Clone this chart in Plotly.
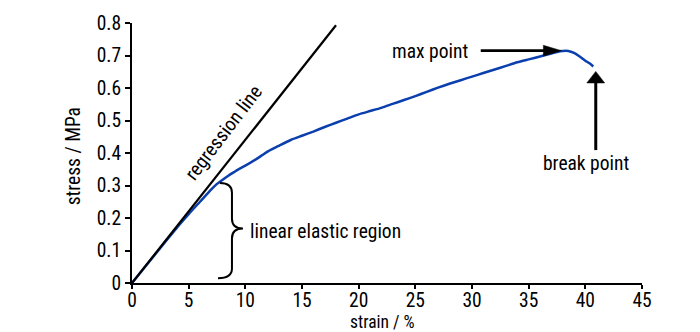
import plotly.graph_objects as go

# Tensile test: engineering stress vs strain
strain = [0, 1, 2, 3, 4, 5, 6, 7, 7.5, 8, 8.5, 9, 9.5, 10, 11, 12, 13, 14, 15, 16,
          17, 18, 19, 20, 21, 22, 23, 24, 25, 26, 27, 28, 29, 30, 31, 32, 33, 34,
          35, 36, 37, 37.5, 38, 38.5, 39, 39.5, 40, 40.4, 40.7]
stress = [0, 0.043, 0.086, 0.129, 0.172, 0.212, 0.250, 0.288, 0.305, 0.318, 0.330,
          0.341, 0.352, 0.361, 0.382, 0.405, 0.423, 0.440, 0.453, 0.466, 0.480,
          0.493, 0.506, 0.519, 0.529, 0.539, 0.551, 0.563, 0.575, 0.588, 0.601,
          0.613, 0.624, 0.635, 0.646, 0.657, 0.668, 0.679, 0.688, 0.697, 0.706,
          0.711, 0.714, 0.714, 0.708, 0.697, 0.684, 0.675, 0.666]

# Linear fit through the elastic part
reg_strain = [0, 18.0]
reg_stress = [0, 0.793]

x_ticks = [0, 5, 10, 15, 20, 25, 30, 35, 40, 45]
y_ticks = [0, 0.1, 0.2, 0.3, 0.4, 0.5, 0.6, 0.7, 0.8]
y_tick_text = ["0", "0.1", "0.2", "0.3", "0.4", "0.5", "0.6", "0.7", "0.8"]

FONT = ("Liberation Sans Narrow, Roboto Condensed, Noto Sans Condensed, "
        "Open Sans Condensed, sans-serif")
FS = 19.5
BLUE = "#0b3fae"

fig = go.Figure()
fig.add_trace(go.Scatter(x=strain, y=stress, mode="lines",
                         line=dict(color=BLUE, width=2.5, shape="spline", smoothing=0.6),
                         hoverinfo="skip", showlegend=False))
fig.add_trace(go.Scatter(x=reg_strain, y=reg_stress, mode="lines",
                         line=dict(color="black", width=2.2),
                         hoverinfo="skip", showlegend=False))

shapes = []

# curly brace marking the linear elastic region
bx_end_top, bx_end_bot, bx_spine, bx_tip = 7.76, 7.59, 8.82, 9.79
by_top, by_bot, by_mid = 0.308, 0.015, 0.1675
r = 0.03
brace = (f"M{bx_end_top},{by_top} Q{bx_spine},{by_top} {bx_spine},{by_top - r} "
         f"L{bx_spine},{by_mid + r} Q{bx_spine},{by_mid} {bx_tip},{by_mid} "
         f"Q{bx_spine},{by_mid} {bx_spine},{by_mid - r} "
         f"L{bx_spine},{by_bot + r} Q{bx_spine},{by_bot} {bx_end_bot},{by_bot}")
shapes.append(dict(type="path", path=brace, xref="x", yref="y",
                   line=dict(color="black", width=2)))

# arrow to the maximum
ay_max = 0.715
shapes.append(dict(type="line", x0=30.77, x1=36.6, y0=ay_max, y1=ay_max,
                   xref="x", yref="y", line=dict(color="black", width=2.7)))
shapes.append(dict(type="path", xref="x", yref="y", fillcolor="black",
                   line=dict(color="black", width=0.5),
                   path=f"M36.3,{ay_max + 0.0163} L37.89,{ay_max} L36.3,{ay_max - 0.0163} Z"))

# arrow to the break
ax_brk = 40.92
shapes.append(dict(type="line", x0=ax_brk, x1=ax_brk, y0=0.409, y1=0.625,
                   xref="x", yref="y", line=dict(color="black", width=3)))
shapes.append(dict(type="path", xref="x", yref="y", fillcolor="black",
                   line=dict(color="black", width=0.5),
                   path=f"M{ax_brk - 0.79},0.6155 L{ax_brk},0.651 L{ax_brk + 0.79},0.6155 Z"))

txt = dict(family=FONT, size=FS, color="black")
annotations = [
    dict(text="regression line", x=8.09, y=0.463, xref="x", yref="y",
         xanchor="center", yanchor="middle",
         textangle=-52.7, showarrow=False, font=txt),
    dict(text="max point", x=29.8, y=0.712, xref="x", yref="y",
         xanchor="right", yanchor="middle", showarrow=False, font=txt),
    dict(text="break point", x=40.1, y=0.367, xref="x", yref="y",
         xanchor="center", yanchor="middle", showarrow=False, font=txt),
    dict(text="linear elastic region", x=10.2, y=0.158, xref="x", yref="y",
         xanchor="left", yanchor="middle", showarrow=False, font=txt),
    dict(text="strain / %", x=0.4916, y=0.0, yshift=-27.5, xref="paper", yref="paper",
         xanchor="center", yanchor="top", showarrow=False, borderpad=0,
         font=dict(family=FONT, size=17.5, color="black")),
    dict(text="stress / MPa", x=-0.1143, y=0.486, xref="paper", yref="paper",
         xanchor="center", yanchor="middle", textangle=-90, showarrow=False, font=txt),
]

axis_common = dict(showgrid=False, zeroline=False, showline=True, linecolor="black",
                   linewidth=2, tickwidth=2, tickcolor="black", ticks="outside",
                   tickfont=txt, fixedrange=True)

fig.update_layout(
    width=700, height=332,
    margin=dict(l=132, r=58, t=13, b=49),
    paper_bgcolor="white", plot_bgcolor="white",
    xaxis=dict(range=[0, 45], tickvals=x_ticks, ticktext=[str(v) for v in x_ticks],
               ticklen=4, ticklabelstandoff=-5, **axis_common),
    yaxis=dict(range=[0, 0.8], tickvals=y_ticks, ticktext=y_tick_text,
               ticklen=5, **axis_common),
    shapes=shapes, annotations=annotations,
)

fig.write_html("out.html", config=dict(displayModeBar=False))
